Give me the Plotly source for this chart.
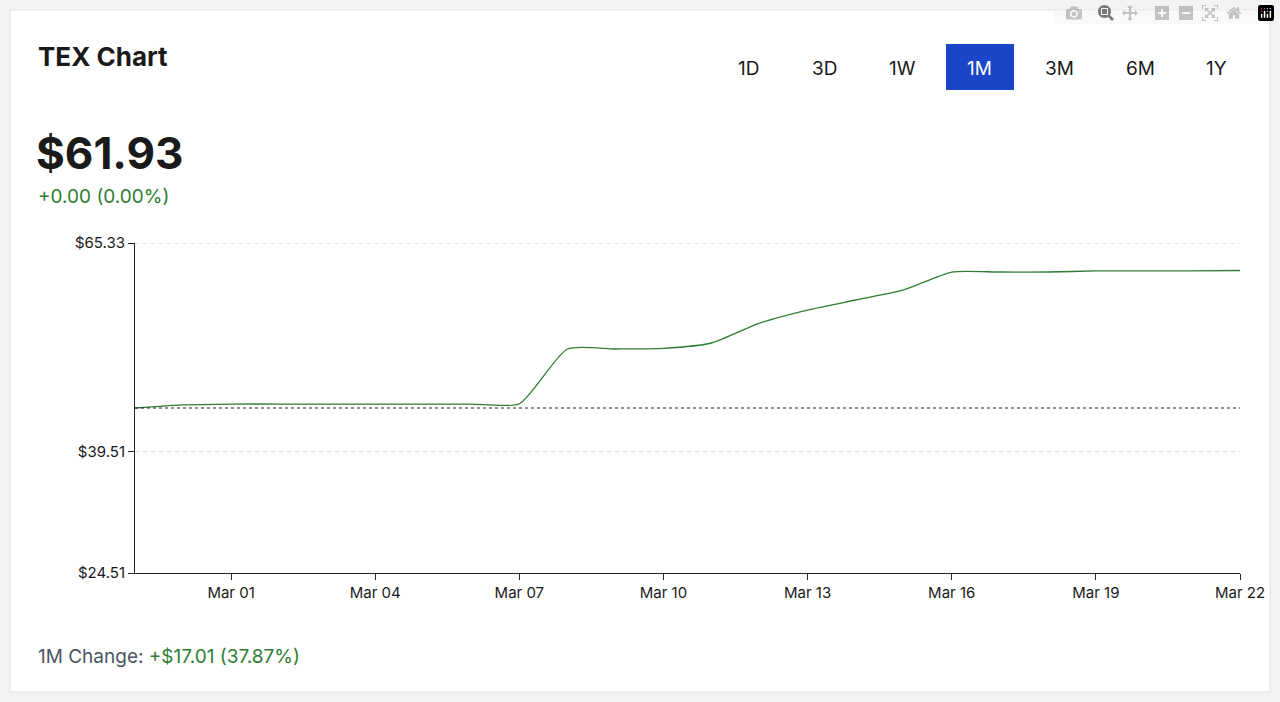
import plotly.graph_objects as go

# Daily closes
dates = ["2025-02-27", "2025-02-28", "2025-03-01", "2025-03-02", "2025-03-03", "2025-03-04",
         "2025-03-05", "2025-03-06", "2025-03-07", "2025-03-08", "2025-03-09", "2025-03-10",
         "2025-03-11", "2025-03-12", "2025-03-13", "2025-03-14", "2025-03-15", "2025-03-16",
         "2025-03-17", "2025-03-18", "2025-03-19", "2025-03-20", "2025-03-21", "2025-03-22"]
prices = [44.92, 45.30, 45.41, 45.41, 45.41, 45.41, 45.41, 45.41, 45.45, 52.22, 52.22, 52.30,
          52.96, 55.43, 57.04, 58.28, 59.52, 61.74, 61.74, 61.74, 61.87, 61.87, 61.88, 61.93]
y_ticks = [24.51, 39.51, 65.33]
x_ticks = ["2025-03-01", "2025-03-04", "2025-03-07", "2025-03-10", "2025-03-13",
           "2025-03-16", "2025-03-19", "2025-03-22"]
x_labels = ["Mar 01", "Mar 04", "Mar 07", "Mar 10", "Mar 13", "Mar 16", "Mar 19", "Mar 22"]
ranges = ["1D", "3D", "1W", "1M", "3M", "6M", "1Y"]
base = 44.92

W, H = 1280, 702
L, R, T, B = 135, 40, 243, 129
GREEN = "#2e7d32"
FONT = "Inter, Roboto, sans-serif"


def px(x):
    return (x - L) / (W - L - R)


def py(y):
    return 1 - (y - T) / (H - T - B)


fig = go.Figure(go.Scatter(x=dates, y=prices, mode="lines",
                           line=dict(color=GREEN, width=1.3, shape="spline", smoothing=0.6),
                           hoverinfo="x+y"))

shapes = []
# card
shapes.append(dict(type="rect", xref="paper", yref="paper", x0=px(10), x1=px(1270), y0=py(692), y1=py(10),
                   fillcolor="white", line=dict(color="#e2e2e2", width=1), layer="below"))
# grid lines
for v in [65.33, 39.51]:
    shapes.append(dict(type="line", xref="paper", yref="y", x0=0, x1=1, y0=v, y1=v,
                       line=dict(color="#d5d5d5", width=1, dash="4px,4px")))
shapes.append(dict(type="line", xref="paper", yref="y", x0=0, x1=1, y0=base, y1=base,
                   line=dict(color="#222", width=1, dash="3px,3px")))

def note(text, x, y, size, color, xanchor="left"):
    return dict(text=text, x=px(x), y=py(y), xref="paper", yref="paper", xanchor=xanchor,
                yanchor="middle", showarrow=False, font=dict(size=size, color=color))


annotations = [
    note("<b>TEX Chart</b>", 36, 56, 26, "#1a1a1a"),
    note("<b>$61.93</b>", 34, 153, 44, "#1a1a1a"),
    note("+0.00 (0.00%)", 36, 196, 19, GREEN),
    note("1M Change: <span style='color:%s'>+$17.01 (37.87%%)</span>" % GREEN, 36, 656, 19, "#4a5563"),
]

centers = [748, 824, 902, 980, 1059, 1140, 1216]
for lab, cx in zip(ranges, centers):
    active = lab == "1M"
    if active:
        shapes.append(dict(type="path", xref="paper", yref="paper",
                           path="M {a},{t} L {b},{t} L {b},{btm} L {a},{btm} Z".format(
                               a=px(cx - 32), b=px(cx + 32), t=py(46), btm=py(88)),
                           fillcolor="#1a45c8", line=dict(color="#1a45c8", width=4)))
    annotations.append(note(lab, cx, 68, 19, "white" if active else "#1a1a1a", xanchor="center"))

fig.update_layout(
    width=W, height=H, margin=dict(l=L, r=R, t=T, b=B),
    paper_bgcolor="#f3f3f3", plot_bgcolor="rgba(0,0,0,0)",
    font=dict(family=FONT, size=15, color="#1a1a1a"),
    showlegend=False, shapes=shapes, annotations=annotations,
    xaxis=dict(range=["2025-02-27", "2025-03-22"], tickvals=x_ticks, ticktext=x_labels,
               showgrid=False, zeroline=False, showline=True, linecolor="#222", ticks="outside",
               ticklen=6, tickcolor="#222", tickfont=dict(size=15)),
    yaxis=dict(range=[24.51, 65.33], tickvals=y_ticks, ticktext=["$%.2f" % v for v in y_ticks],
               showgrid=False, zeroline=False, showline=True, linecolor="#222", ticks="outside",
               ticklen=6, tickcolor="#222", tickfont=dict(size=15)),
)

fig.write_html("out.html", post_script="document.body.style.margin='0';document.body.style.overflow='hidden';")
